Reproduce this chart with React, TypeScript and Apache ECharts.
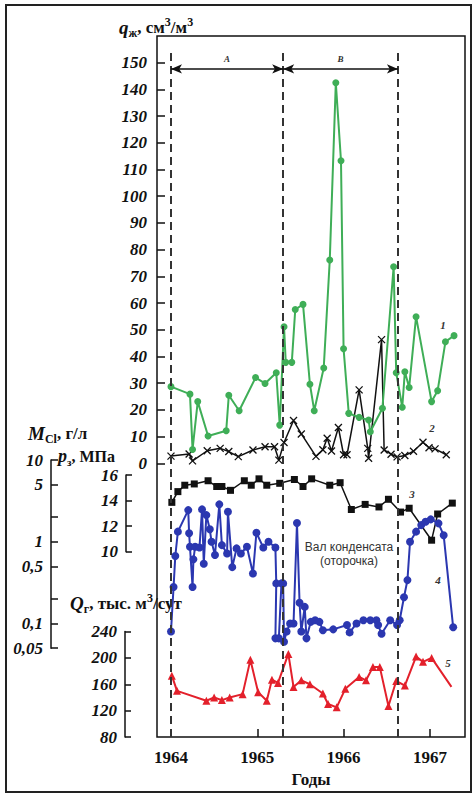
import React, { useEffect, useRef } from "react";
import * as echarts from "echarts";

// ---------- data ----------
const yearTicks = [1964, 1965, 1966, 1967];
const periodBounds = [1964.0, 1965.3, 1966.63];
const periodNames = ["A", "B"];

const mClTickValues = [0.05, 0.1, 0.2, 0.5, 1, 2, 5, 10];
const mClLabelValues = [0.05, 0.1, 0.5, 1, 5, 10];
const mClLabelTexts = ["0,05", "0,1", "0,5", "1", "5", "10"];

// 1: q_ж, cm3/m3
const curve1 = [
  [1964.0, 28.7], [1964.22, 25.9], [1964.25, 5.2], [1964.31, 23.1], [1964.43, 10.2],
  [1964.64, 12.2], [1964.67, 25.5], [1964.79, 19.7], [1964.98, 32.1], [1965.09, 29.9],
  [1965.22, 33.9], [1965.26, 14.3], [1965.31, 51.1], [1965.33, 37.8], [1965.4, 37.8],
  [1965.44, 57.6], [1965.53, 59.5], [1965.61, 29.6], [1965.66, 19.7], [1965.77, 35.7],
  [1965.84, 76.1], [1965.91, 142.5], [1965.97, 113.3], [1966.0, 42.9], [1966.06, 18.7],
  [1966.18, 17.2], [1966.29, 16.2], [1966.31, 11.8], [1966.45, 20.6], [1966.58, 73.6],
  [1966.61, 33.9], [1966.68, 21.0], [1966.71, 34.3], [1966.76, 28.4], [1966.84, 54.9],
  [1967.02, 23.1], [1967.09, 27.2], [1967.18, 45.5], [1967.28, 47.8],
];

// 2: (same scale as q)
const curve2 = [
  [1964.0, 2.7], [1964.21, 3.5], [1964.25, 0.9], [1964.42, 4.7], [1964.57, 5.6],
  [1964.67, 4.4], [1964.78, 2.5], [1964.95, 5.0], [1965.09, 6.2], [1965.2, 6.2],
  [1965.25, 1.2], [1965.31, 7.8], [1965.42, 16.0], [1965.51, 11.0], [1965.68, 2.6],
  [1965.76, 5.1], [1965.81, 9.4], [1965.86, 4.6], [1965.94, 13.4], [1966.0, 3.2],
  [1966.04, 3.2], [1966.18, 27.5], [1966.28, 5.6], [1966.29, 1.9], [1966.44, 46.3],
  [1966.47, 5.0], [1966.55, 3.4], [1966.62, 2.4], [1966.71, 2.9], [1966.81, 4.5],
  [1966.92, 7.9], [1966.99, 5.8], [1967.06, 5.4], [1967.19, 3.2],
];

// 3: p_з, MPa
const curve3 = [
  [1964.01, 13.86], [1964.08, 14.7], [1964.16, 15.2], [1964.27, 15.3], [1964.43, 15.55],
  [1964.53, 15.1], [1964.59, 15.1], [1964.69, 14.8], [1964.85, 15.55], [1964.93, 15.2],
  [1965.02, 15.7], [1965.11, 15.2], [1965.26, 15.35], [1965.43, 15.65], [1965.53, 15.1],
  [1965.63, 15.7], [1965.84, 15.2], [1965.96, 15.4], [1966.09, 13.3], [1966.25, 13.7],
  [1966.41, 13.5], [1966.52, 14.1], [1966.66, 13.1], [1966.76, 13.4], [1967.02, 10.9],
  [1967.09, 12.95], [1967.26, 13.8],
];

// 4: M_Cl, g/l (log scale)
const curve4 = [
  [1964.0, 0.08], [1964.03, 0.28], [1964.05, 0.67], [1964.08, 1.33], [1964.2, 2.44],
  [1964.21, 1.27], [1964.22, 0.87], [1964.25, 0.28], [1964.26, 0.61], [1964.28, 0.87],
  [1964.33, 0.85], [1964.36, 2.49], [1964.38, 0.54], [1964.41, 2.12], [1964.45, 1.42],
  [1964.47, 1.0], [1964.51, 0.69], [1964.56, 2.87], [1964.59, 0.91], [1964.65, 0.72],
  [1964.66, 2.33], [1964.71, 0.49], [1964.76, 0.83], [1964.81, 0.72], [1964.88, 0.87],
  [1964.95, 0.41], [1964.99, 1.29], [1965.07, 0.85], [1965.13, 1.0], [1965.21, 0.85],
  [1965.22, 0.31], [1965.21, 0.066], [1965.25, 0.066], [1965.28, 0.31], [1965.3, 0.31],
  [1965.31, 0.06], [1965.34, 0.08], [1965.38, 0.1], [1965.42, 0.1], [1965.46, 1.7],
  [1965.49, 0.18], [1965.51, 0.08], [1965.55, 0.16], [1965.57, 0.066], [1965.62, 0.105],
  [1965.67, 0.11], [1965.72, 0.105], [1965.76, 0.083], [1965.88, 0.085], [1966.04, 0.096],
  [1966.07, 0.078], [1966.15, 0.1], [1966.23, 0.11], [1966.31, 0.11], [1966.38, 0.11],
  [1966.4, 0.096], [1966.44, 0.075], [1966.54, 0.11], [1966.62, 0.096], [1966.65, 0.11],
  [1966.7, 0.21], [1966.74, 0.34], [1966.77, 1.0], [1966.84, 1.33], [1966.9, 1.6],
  [1966.95, 1.76], [1967.01, 1.88], [1967.1, 1.68], [1967.16, 1.2], [1967.27, 0.09],
];

// 5: Q_г, thousand m3/day
const curve5 = [
  [1964.01, 173], [1964.07, 150], [1964.41, 135], [1964.5, 140], [1964.59, 136],
  [1964.68, 140], [1964.83, 145], [1964.92, 197], [1965.01, 148], [1965.11, 135],
  [1965.17, 167], [1965.24, 162], [1965.36, 206], [1965.42, 156], [1965.51, 166],
  [1965.61, 160], [1965.76, 146], [1965.82, 130], [1965.92, 125], [1966.02, 153],
  [1966.18, 171], [1966.26, 166], [1966.34, 186], [1966.42, 186], [1966.52, 127],
  [1966.61, 165], [1966.71, 158], [1966.84, 202], [1966.92, 194], [1967.02, 200],
  [1967.25, 156],
];

// ---------- styles ----------
const serif = '"Liberation Serif", "DejaVu Serif", serif';
const sans = '"Liberation Sans", "DejaVu Sans", sans-serif';
const INK = "#111";
const GREEN = "#3fae57";
const BLUE = "#2b37b0";
const RED = "#e3202b";
const X_MIN = 1963.838;
const X_MAX = 1967.407;
const LEFT = 157;
const WIDTH = 308;
const gridDefs = [
  { top: 36, height: 701 },
  { top: 62.7, height: 400.6 },
  { top: 460, height: 188.2 },
  { top: 475, height: 76.7 },
  { top: 631.5, height: 105.5 },
];

const lg = (v: number) => Math.log10(v);

export default function App() {
  const ref = useRef<HTMLDivElement>(null);
  useEffect(() => {
    document.body.style.margin = "0";
    const chart = echarts.init(ref.current!, null, { renderer: "svg" });

    const tickLabel = {
      fontFamily: serif,
      fontSize: 17,
      fontWeight: "bold",
      fontStyle: "italic",
      color: INK,
    };
    const axisLineStyle = { color: INK, width: 1.5 };

    const makeRich = (big: number, mid: number, small: number): any => ({
      v: { fontFamily: serif, fontSize: big, fontWeight: "bold", fontStyle: "italic", fill: INK, lineHeight: big + 4 },
      t: { fontFamily: serif, fontSize: mid, fontWeight: "bold", fill: INK, lineHeight: big + 4 },
      s: { fontFamily: serif, fontSize: small, fontWeight: "bold", fill: INK, lineHeight: small, verticalAlign: "bottom" },
      p: { fontFamily: serif, fontSize: small, fontWeight: "bold", fill: INK, lineHeight: small, verticalAlign: "top" },
    });
    const title = (x: number, y: number, text: string, big = 19, mid = 17, small = 12) => ({
      type: "text",
      x,
      y,
      style: { text, rich: makeRich(big, mid, small), align: "left", verticalAlign: "middle" },
    });
    const num = (x: number, y: number, text: string) => ({
      type: "text",
      x,
      y,
      style: {
        text,
        fontFamily: serif,
        fontSize: 11,
        fontStyle: "italic",
        fontWeight: "bold",
        fill: "#333",
        align: "center",
        verticalAlign: "middle",
      },
    });

    const arrowY = 0.953;
    const dashTop = 0.983;
    const markData: any[] = [];
    periodBounds.forEach((b) => {
      markData.push([
        { coord: [b, 0], symbol: "none", lineStyle: { color: "#333", width: 2, type: [8, 5] }, label: { show: false } },
        { coord: [b, dashTop], symbol: "none" },
      ]);
    });
    for (let i = 0; i < periodNames.length; i++) {
      markData.push([
        {
          coord: [periodBounds[i], arrowY],
          symbol: "arrow",
          lineStyle: { color: INK, width: 1.5, type: "solid" },
          label: {
            show: true,
            position: "middle",
            formatter: periodNames[i],
            fontFamily: serif,
            fontSize: 9,
            fontStyle: "italic",
            fontWeight: "bold",
            color: "#333",
            distance: 5,
          },
        },
        { coord: [periodBounds[i + 1], arrowY], symbol: "arrow" },
      ]);
    }

    const option: any = {
      animation: false,
      backgroundColor: "#fff",
      grid: gridDefs.map((g, i) => ({
        left: LEFT,
        width: WIDTH,
        top: g.top,
        height: g.height,
        show: i === 0,
        borderColor: INK,
        borderWidth: 1.5,
        backgroundColor: "transparent",
      })),
      xAxis: gridDefs.map((g, i) =>
        i === 0
          ? {
              type: "value",
              gridIndex: 0,
              min: X_MIN,
              max: X_MAX,
              axisLine: { show: false },
              splitLine: { show: false },
              axisTick: { show: true, inside: true, length: 8, customValues: yearTicks, lineStyle: axisLineStyle },
              axisLabel: {
                customValues: yearTicks,
                formatter: (v: number) => String(Math.round(v)),
                fontFamily: serif,
                fontSize: 17,
                fontWeight: "bold",
                color: INK,
                margin: 12,
              },
              name: "Годы",
              nameLocation: "middle",
              nameGap: 32,
              nameTextStyle: { fontFamily: serif, fontSize: 17, fontWeight: "bold", color: INK },
            }
          : { type: "value", gridIndex: i, min: X_MIN, max: X_MAX, show: false }
      ),
      yAxis: [
        { type: "value", gridIndex: 0, min: 0, max: 1, show: false },
        {
          type: "value",
          gridIndex: 1,
          min: 0,
          max: 150,
          interval: 10,
          axisLine: { show: false },
          splitLine: { show: false },
          axisTick: { show: true, inside: true, length: 8, lineStyle: axisLineStyle },
          axisLabel: { ...tickLabel, margin: 10 },
        },
        {
          type: "value",
          gridIndex: 2,
          min: lg(0.05),
          max: 1,
          offset: 106,
          axisLine: { show: true, lineStyle: axisLineStyle },
          splitLine: { show: false },
          axisTick: { show: true, inside: true, length: 7, customValues: mClTickValues.map(lg), lineStyle: axisLineStyle },
          axisLabel: {
            ...tickLabel,
            margin: 8,
            customValues: mClLabelValues.map(lg),
            formatter: (v: number) => {
              let best = 0;
              mClLabelValues.forEach((m, k) => {
                if (Math.abs(lg(m) - v) < Math.abs(lg(mClLabelValues[best]) - v)) best = k;
              });
              return mClLabelTexts[best];
            },
          },
        },
        {
          type: "value",
          gridIndex: 3,
          min: 10,
          max: 16,
          interval: 2,
          offset: 31,
          axisLine: { show: true, lineStyle: axisLineStyle },
          splitLine: { show: false },
          axisTick: { show: true, inside: true, length: 6, lineStyle: axisLineStyle },
          axisLabel: { ...tickLabel, margin: 8 },
        },
        {
          type: "value",
          gridIndex: 4,
          min: 80,
          max: 240,
          interval: 40,
          offset: 32,
          axisLine: { show: true, lineStyle: axisLineStyle },
          splitLine: { show: false },
          axisTick: { show: true, inside: true, length: 6, lineStyle: axisLineStyle },
          axisLabel: { ...tickLabel, margin: 8 },
        },
      ],
      series: [
        {
          type: "line",
          xAxisIndex: 0,
          yAxisIndex: 0,
          data: [[X_MIN, -5]],
          showSymbol: false,
          lineStyle: { opacity: 0 },
          silent: true,
          markLine: { silent: true, animation: false, symbolSize: [7, 11], data: markData },
        },
        {
          type: "line",
          name: "2",
          xAxisIndex: 1,
          yAxisIndex: 1,
          data: curve2,
          clip: false,
          symbol: "path://M0 0L10 10M10 0L0 10",
          symbolSize: 7,
          itemStyle: { color: INK, borderColor: INK, borderWidth: 1.3 },
          lineStyle: { color: INK, width: 1.5 },
          z: 3,
        },
        {
          type: "line",
          name: "1",
          xAxisIndex: 1,
          yAxisIndex: 1,
          data: curve1,
          clip: false,
          symbol: "circle",
          symbolSize: 7,
          itemStyle: { color: GREEN },
          lineStyle: { color: GREEN, width: 2 },
          z: 4,
        },
        {
          type: "line",
          name: "3",
          xAxisIndex: 3,
          yAxisIndex: 3,
          data: curve3,
          clip: false,
          symbol: "rect",
          symbolSize: 7,
          itemStyle: { color: INK },
          lineStyle: { color: INK, width: 1.5 },
          z: 3,
        },
        {
          type: "line",
          name: "4",
          xAxisIndex: 2,
          yAxisIndex: 2,
          data: curve4.map(([x, v]) => [x, lg(v)]),
          clip: false,
          symbol: "circle",
          symbolSize: 8,
          itemStyle: { color: BLUE },
          lineStyle: { color: BLUE, width: 2 },
          z: 4,
        },
        {
          type: "line",
          name: "5",
          xAxisIndex: 4,
          yAxisIndex: 4,
          data: curve5.map((d, k) =>
            k === curve5.length - 1 ? { value: d, symbol: "none" } : { value: d }
          ),
          clip: false,
          symbol: "triangle",
          symbolSize: 8,
          itemStyle: { color: RED },
          lineStyle: { color: RED, width: 2 },
          z: 4,
        },
      ],
      graphic: [
        {
          type: "rect",
          shape: { x: 6, y: 5, width: 465, height: 787 },
          style: { fill: "none", stroke: "#222", lineWidth: 2 },
          silent: true,
        },
        title(119, 27, "{v|q}{s|ж}{t|, см}{p|3}{t|/м}{p|3}"),
        title(28, 433, "{v|M}{s|Cl}{t|, г/л}"),
        title(58, 456, "{v|p}{s|з}{t|, МПа}", 18, 16, 11),
        title(70, 603, "{v|Q}{s|г}{t|, тыс. м}{p|3}{t|/сут}"),
        num(443, 325, "1"),
        num(432, 428, "2"),
        num(412, 494, "3"),
        num(438, 580, "4"),
        num(448, 663, "5"),
        {
          type: "text",
          x: 349,
          y: 547,
          style: { text: "Вал конденсата", fontFamily: sans, fontSize: 12, fill: "#333", align: "center", verticalAlign: "middle" },
        },
        {
          type: "text",
          x: 349,
          y: 561,
          style: { text: "(оторочка)", fontFamily: sans, fontSize: 12, fill: "#333", align: "center", verticalAlign: "middle" },
        },
      ],
    };
    chart.setOption(option);
    return () => chart.dispose();
  }, []);
  return (
    <div
      ref={ref}
      style={{ position: "absolute", left: 0, top: 0, width: 476, height: 796, background: "#fff" }}
    />
  );
}
